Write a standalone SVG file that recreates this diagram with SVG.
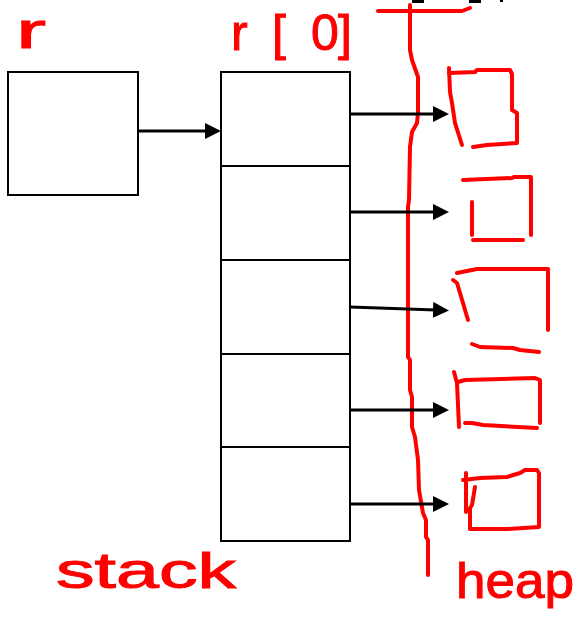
<svg xmlns="http://www.w3.org/2000/svg" width="578" height="620" viewBox="0 0 578 620">
  <style>
    .box { fill: #fff; stroke: #000; stroke-width: 2; }
    .conn { stroke: #000; stroke-width: 3; fill: none; }
    .ink { stroke: #ff0000; stroke-width: 4; fill: none; stroke-linecap: round; stroke-linejoin: round; }
    .hand { fill: #ff0000; stroke: #ff0000; stroke-width: 1; font-family: "Liberation Sans", Arial, sans-serif; }
  </style>
  <defs>
    <marker id="arrow" markerUnits="userSpaceOnUse" markerWidth="16" markerHeight="16" refX="3" refY="8" orient="auto">
      <path d="M0,0 L16,8 L0,16 Z" fill="#000"/>
    </marker>
  </defs>

  <rect width="578" height="620" fill="#fff"/>

  <!-- clipped remnants along the top edge -->
  <rect x="412" y="0" width="12" height="3" fill="#000"/>
  <rect x="469" y="0" width="12" height="3" fill="#000"/>
  <rect x="500" y="0" width="3" height="2" fill="#000"/>

  <!-- variable r -->
  <g id="var-r">
    <rect class="box" x="8" y="72" width="130" height="123"/>
  </g>

  <!-- array on the stack -->
  <g id="stack-array">
    <rect class="box" x="221" y="72" width="129" height="94"/>
    <rect class="box" x="221" y="166" width="129" height="94"/>
    <rect class="box" x="221" y="260" width="129" height="94"/>
    <rect class="box" x="221" y="354" width="129" height="93"/>
    <rect class="box" x="221" y="447" width="129" height="94"/>
  </g>

  <!-- stack / heap boundary -->
  <g id="boundary">
    <path class="ink" d="M378,11 L462,11 L470,8"/>
    <path class="ink" d="M410,5 L410,50 L412,60 L418,77 L418,113 L417,123 L412,132 L410,147 L409,200 L408,207 L408,357 L410,360 L410,390 L412,397 L412,427 L415,437 L418,460 L419,490 L423,513 L426,520 L426,537 L428,540 L428,575"/>
  </g>

  <!-- objects on the heap -->
  <g id="heap-obj-0">
    <path class="ink" d="M449,68 L450,92 L452,103 L455,123 L462,145"/>
    <path class="ink" d="M449,73 L475,72 L477,70 L510,70 L512,74 L512,110 L517,113 L517,143 L487,145 L473,147"/>
  </g>
  <g id="heap-obj-1">
    <path class="ink" d="M463,180 L512,178 L514,177 L531,177 L531,235"/>
    <path class="ink" d="M472,202 L472,235"/>
    <path class="ink" d="M473,240 L523,240"/>
  </g>
  <g id="heap-obj-2">
    <path class="ink" d="M457,273 L467,271 L477,269 L548,269 L548,330"/>
    <path class="ink" d="M453,280 L457,283 L460,293 L468,320"/>
    <path class="ink" d="M472,344 L480,347 L513,348 L520,350 L539,352"/>
  </g>
  <g id="heap-obj-3">
    <path class="ink" d="M454,372 L457,383 L459,427"/>
    <path class="ink" d="M458,382 L465,380 L535,378 L540,380 L540,423"/>
    <path class="ink" d="M465,423 L472,423 L483,425 L537,428"/>
  </g>
  <g id="heap-obj-4">
    <path class="ink" d="M466,473 L466,512"/>
    <path class="ink" d="M475,487 L472,505 L470,508 L470,528"/>
    <path class="ink" d="M463,480 L480,478 L507,477 L520,473 L525,470 L537,470 L539,473 L539,527 L507,529 L470,529"/>
  </g>

  <!-- references -->
  <g id="connectors">
    <path class="conn" d="M138,131 L208,131" marker-end="url(#arrow)"/>
    <path class="conn" d="M350,114 L436,114" marker-end="url(#arrow)"/>
    <path class="conn" d="M350,212 L436,212" marker-end="url(#arrow)"/>
    <path class="conn" d="M350,307 L436,310" marker-end="url(#arrow)"/>
    <path class="conn" d="M350,410 L436,410" marker-end="url(#arrow)"/>
    <path class="conn" d="M350,504 L436,504" marker-end="url(#arrow)"/>
  </g>

  <!-- labels -->
  <g id="labels">
    <text class="hand" x="16" y="48" font-size="50" textLength="30" lengthAdjust="spacingAndGlyphs">r</text>
    <text class="hand" x="231 272 311 338" y="50" font-size="50">r[0]</text>
    <text class="hand" x="56" y="588" font-size="50" textLength="180" lengthAdjust="spacingAndGlyphs">stack</text>
    <text class="hand" x="456" y="598" font-size="50" textLength="118" lengthAdjust="spacingAndGlyphs">heap</text>
  </g>
</svg>
